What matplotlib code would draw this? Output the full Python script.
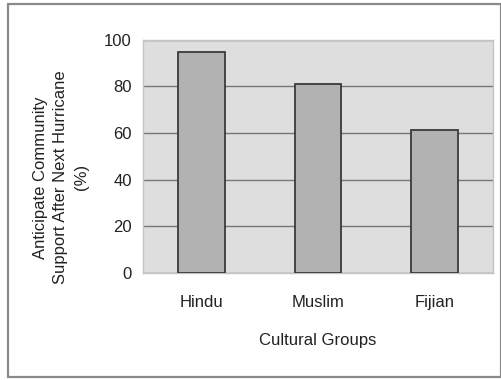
import matplotlib
matplotlib.use('Agg')
import matplotlib.pyplot as plt
from matplotlib.patches import Rectangle

# data
groups = ['Hindu', 'Muslim', 'Fijian']
support = [95, 81, 61.5]
yticks = [0, 20, 40, 60, 80, 100]

plt.rcParams['font.family'] = ['Liberation Sans', 'DejaVu Sans']

fig = plt.figure(figsize=(5.02, 3.80), dpi=100)
fig.patch.set_facecolor('white')
# outer frame round the whole chart
fig.patches.append(Rectangle((0.016, 0.008), 0.982, 0.981, transform=fig.transFigure,
                             fill=False, edgecolor='#8a8a8a', linewidth=1.6))

ax = fig.add_axes([0.285, 0.282, 0.697, 0.613])
ax.set_facecolor('#dedede')

xs = list(range(len(groups)))
ax.bar(xs, support, width=0.40, color='#b2b2b2', edgecolor='#3a3a3a', linewidth=1.3, zorder=3)

ax.set_xlim(-0.5, len(groups) - 0.5)
ax.set_ylim(0, 100)
ax.set_yticks(yticks)
ax.set_xticks(xs)
ax.set_xticklabels(groups)
ax.yaxis.grid(True, color='#767676', linewidth=1.0, zorder=1)
ax.set_axisbelow(True)

for s in ax.spines.values():
    s.set_color('#c4c4c4')
    s.set_linewidth(1.0)

ax.tick_params(axis='both', length=0, labelsize=12, colors='#222222')
ax.tick_params(axis='y', pad=8)
ax.tick_params(axis='x', pad=16)

ax.set_xlabel('Cultural Groups', fontsize=12, color='#222222', va='top')
ax.xaxis.set_label_coords(0.5, -0.26)
ax.set_ylabel('Anticipate Community\nSupport After Next Hurricane\n(%)', fontsize=12,
              color='#222222', linespacing=1.45, va='center')
ax.yaxis.set_label_coords(-0.235, 0.41)

plt.savefig('out.png', dpi=100)
